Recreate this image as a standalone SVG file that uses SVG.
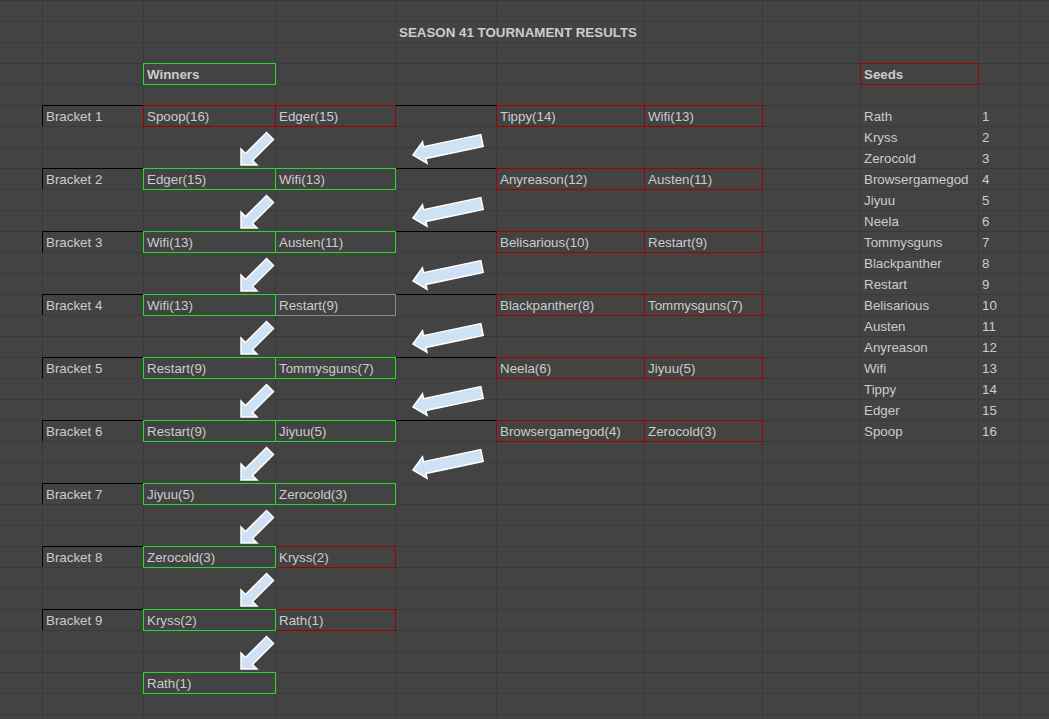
<svg xmlns="http://www.w3.org/2000/svg" width="1049" height="719" viewBox="0 0 1049 719">
<style>
text{font-family:"Liberation Sans",Arial,sans-serif;font-size:13.33px;fill:#cccccc}
.b{font-weight:bold}
.grid{stroke:#3a3a3a;stroke-width:1;fill:none}
.red{fill:none;stroke:#a00000;stroke-width:1}
.grn{fill:none;stroke:#22dd22;stroke-width:1}
.gry{fill:none;stroke:#8a8a8a;stroke-width:1}
.blk{fill:none;stroke:#000000;stroke-width:1}
.arr{fill:#cfe2f3;stroke:#ffffff;stroke-width:1.5;stroke-linejoin:miter}
</style>
<defs>
<path id="diag" class="arr" d="M241,165 L241,149 L245.5,153.5 L266.5,132.5 L273.5,139.5 L252.5,160.5 L257,165 Z"/>
<path id="left" class="arr" d="M413,155 L422.5,141.8 L423.5,146.7 L480.8,134.6 L483.2,146.4 L426,158.4 L427,163.3 Z"/>
</defs>
<rect width="1049" height="719" fill="#434343"/>
<g id="grid" class="grid">
<path d="M0,0.5H1049M0,21.5H1049M0,42.5H1049M0,63.5H1049M0,84.5H1049M0,105.5H1049M0,126.5H1049M0,147.5H1049M0,168.5H1049M0,189.5H1049M0,210.5H1049M0,231.5H1049M0,252.5H1049M0,273.5H1049M0,294.5H1049M0,315.5H1049M0,336.5H1049M0,357.5H1049M0,378.5H1049M0,399.5H1049M0,420.5H1049M0,441.5H1049M0,462.5H1049M0,483.5H1049M0,504.5H1049M0,525.5H1049M0,546.5H1049M0,567.5H1049M0,588.5H1049M0,609.5H1049M0,630.5H1049M0,651.5H1049M0,672.5H1049M0,693.5H1049M0,714.5H1049"/>
<path d="M42.5,0V719M143.5,0V719M275.5,0V719M395.5,0V21M395.5,42V719M496.5,0V21M496.5,42V719M644.5,0V719M762.5,0V719M860.5,0V719M978.5,0V719M1019.5,0V719"/>
</g>
<g id="title"><text class="b" x="399" y="37">SEASON 41 TOURNAMENT RESULTS</text></g>
<g id="winners-header"><rect class="grn" x="143.5" y="63.5" width="132" height="21"/><text class="b" x="147" y="79">Winners</text></g>
<g id="seeds-header"><rect class="red" x="860.5" y="63.5" width="118" height="21"/><text class="b" x="864" y="79">Seeds</text></g>

<g id="bracket-labels">
<path class="blk" d="M42.5,126V105.5H143M42.5,189V168.5H143M42.5,252V231.5H143M42.5,315V294.5H143M42.5,378V357.5H143M42.5,441V420.5H143M42.5,504V483.5H143M42.5,567V546.5H143M42.5,630V609.5H143"/>
<path class="blk" d="M396,105.5H496M396,168.5H496M396,231.5H496M396,294.5H496M396,357.5H496M396,420.5H496"/>
<text x="46" y="121">Bracket 1</text>
<text x="46" y="184">Bracket 2</text>
<text x="46" y="247">Bracket 3</text>
<text x="46" y="310">Bracket 4</text>
<text x="46" y="373">Bracket 5</text>
<text x="46" y="436">Bracket 6</text>
<text x="46" y="499">Bracket 7</text>
<text x="46" y="562">Bracket 8</text>
<text x="46" y="625">Bracket 9</text>
</g>

<g id="bracket1">
<rect class="red" x="143.5" y="105.5" width="132" height="21"/><rect class="red" x="275.5" y="105.5" width="120" height="21"/>
<rect class="red" x="496.5" y="105.5" width="148" height="21"/><rect class="red" x="644.5" y="105.5" width="118" height="21"/>
<text x="147" y="121">Spoop(16)</text><text x="279" y="121">Edger(15)</text><text x="500" y="121">Tippy(14)</text><text x="648" y="121">Wifi(13)</text>
</g>
<g id="bracket2">
<rect class="red" x="496.5" y="168.5" width="148" height="21"/><rect class="red" x="644.5" y="168.5" width="118" height="21"/>
<rect class="grn" x="143.5" y="168.5" width="132" height="21"/><rect class="grn" x="275.5" y="168.5" width="120" height="21"/>
<text x="147" y="184">Edger(15)</text><text x="279" y="184">Wifi(13)</text><text x="500" y="184">Anyreason(12)</text><text x="648" y="184">Austen(11)</text>
</g>
<g id="bracket3">
<rect class="red" x="496.5" y="231.5" width="148" height="21"/><rect class="red" x="644.5" y="231.5" width="118" height="21"/>
<rect class="grn" x="143.5" y="231.5" width="132" height="21"/><rect class="grn" x="275.5" y="231.5" width="120" height="21"/>
<text x="147" y="247">Wifi(13)</text><text x="279" y="247">Austen(11)</text><text x="500" y="247">Belisarious(10)</text><text x="648" y="247">Restart(9)</text>
</g>
<g id="bracket4">
<rect class="red" x="496.5" y="294.5" width="148" height="21"/><rect class="red" x="644.5" y="294.5" width="118" height="21"/>
<rect class="gry" x="275.5" y="294.5" width="120" height="21"/>
<rect class="grn" x="143.5" y="294.5" width="132" height="21"/>
<text x="147" y="310">Wifi(13)</text><text x="279" y="310">Restart(9)</text><text x="500" y="310">Blackpanther(8)</text><text x="648" y="310">Tommysguns(7)</text>
</g>
<g id="bracket5">
<rect class="red" x="496.5" y="357.5" width="148" height="21"/><rect class="red" x="644.5" y="357.5" width="118" height="21"/>
<rect class="grn" x="143.5" y="357.5" width="132" height="21"/><rect class="grn" x="275.5" y="357.5" width="120" height="21"/>
<text x="147" y="373">Restart(9)</text><text x="279" y="373">Tommysguns(7)</text><text x="500" y="373">Neela(6)</text><text x="648" y="373">Jiyuu(5)</text>
</g>
<g id="bracket6">
<rect class="red" x="496.5" y="420.5" width="148" height="21"/><rect class="red" x="644.5" y="420.5" width="118" height="21"/>
<rect class="grn" x="143.5" y="420.5" width="132" height="21"/><rect class="grn" x="275.5" y="420.5" width="120" height="21"/>
<text x="147" y="436">Restart(9)</text><text x="279" y="436">Jiyuu(5)</text><text x="500" y="436">Browsergamegod(4)</text><text x="648" y="436">Zerocold(3)</text>
</g>
<g id="bracket7">
<rect class="grn" x="143.5" y="483.5" width="132" height="21"/><rect class="grn" x="275.5" y="483.5" width="120" height="21"/>
<text x="147" y="499">Jiyuu(5)</text><text x="279" y="499">Zerocold(3)</text>
</g>
<g id="bracket8">
<rect class="red" x="275.5" y="546.5" width="120" height="21"/>
<rect class="grn" x="143.5" y="546.5" width="132" height="21"/>
<text x="147" y="562">Zerocold(3)</text><text x="279" y="562">Kryss(2)</text>
</g>
<g id="bracket9">
<rect class="red" x="275.5" y="609.5" width="120" height="21"/>
<rect class="grn" x="143.5" y="609.5" width="132" height="21"/>
<text x="147" y="625">Kryss(2)</text><text x="279" y="625">Rath(1)</text>
</g>
<g id="champion">
<rect class="grn" x="143.5" y="672.5" width="132" height="21"/>
<text x="147" y="688">Rath(1)</text>
</g>

<g id="seeds">
<text x="864" y="121">Rath</text><text x="982" y="121">1</text>
<text x="864" y="142">Kryss</text><text x="982" y="142">2</text>
<text x="864" y="163">Zerocold</text><text x="982" y="163">3</text>
<text x="864" y="184">Browsergamegod</text><text x="982" y="184">4</text>
<text x="864" y="205">Jiyuu</text><text x="982" y="205">5</text>
<text x="864" y="226">Neela</text><text x="982" y="226">6</text>
<text x="864" y="247">Tommysguns</text><text x="982" y="247">7</text>
<text x="864" y="268">Blackpanther</text><text x="982" y="268">8</text>
<text x="864" y="289">Restart</text><text x="982" y="289">9</text>
<text x="864" y="310">Belisarious</text><text x="982" y="310">10</text>
<text x="864" y="331">Austen</text><text x="982" y="331">11</text>
<text x="864" y="352">Anyreason</text><text x="982" y="352">12</text>
<text x="864" y="373">Wifi</text><text x="982" y="373">13</text>
<text x="864" y="394">Tippy</text><text x="982" y="394">14</text>
<text x="864" y="415">Edger</text><text x="982" y="415">15</text>
<text x="864" y="436">Spoop</text><text x="982" y="436">16</text>
</g>

<g id="connectors">
<use href="#diag"/>
<use href="#diag" transform="translate(0,63)"/>
<use href="#diag" transform="translate(0,126)"/>
<use href="#diag" transform="translate(0,189)"/>
<use href="#diag" transform="translate(0,252)"/>
<use href="#diag" transform="translate(0,315)"/>
<use href="#diag" transform="translate(0,378)"/>
<use href="#diag" transform="translate(0,441)"/>
<use href="#diag" transform="translate(0,504)"/>
<use href="#left"/>
<use href="#left" transform="translate(0,63)"/>
<use href="#left" transform="translate(0,126)"/>
<use href="#left" transform="translate(0,189)"/>
<use href="#left" transform="translate(0,252)"/>
<use href="#left" transform="translate(0,315)"/>
</g>
</svg>
